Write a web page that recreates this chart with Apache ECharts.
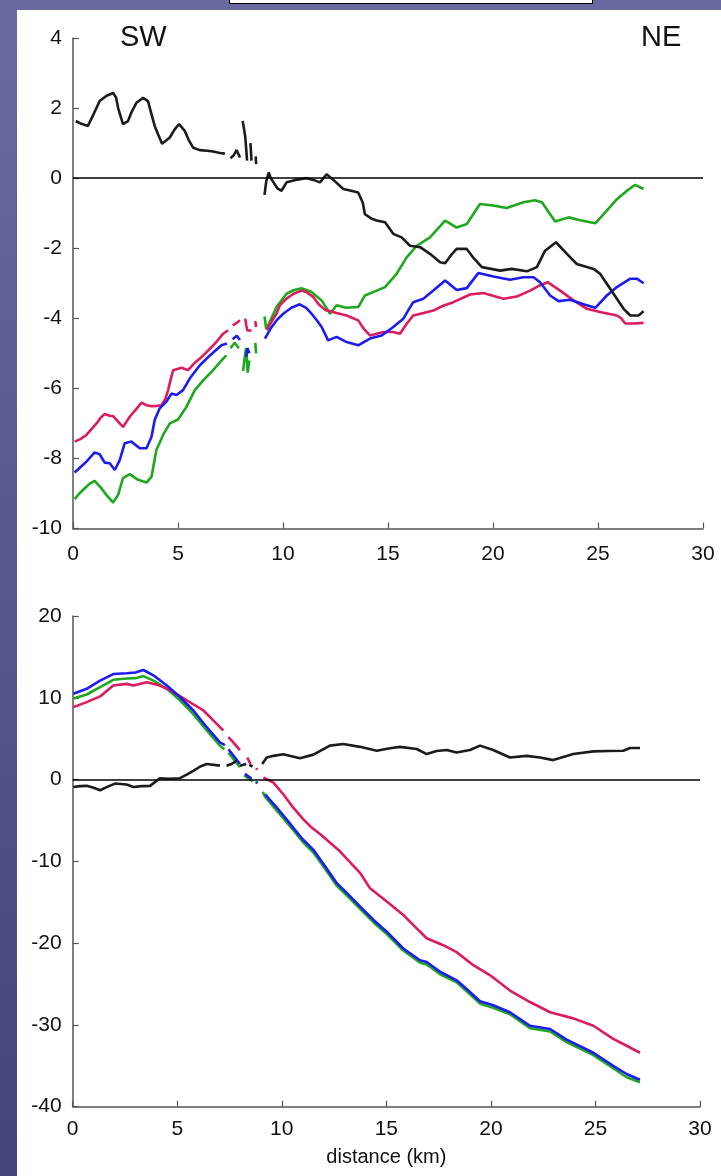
<!DOCTYPE html>
<html>
<head>
<meta charset="utf-8">
<script src="https://cdn.jsdelivr.net/npm/echarts@6/dist/echarts.min.js"></script>
<style>
  html, body { margin: 0; padding: 0; }
  body {
    width: 721px; height: 1176px; overflow: hidden; position: relative;
    background: linear-gradient(to bottom, #6a6aa0, #44447a);
  }
  #paper { position: absolute; left: 17px; top: 10px; right: 0; bottom: 0; background: #fff; }
  #tab { position: absolute; left: 229px; top: -4px; width: 362px; height: 6px; background: #fff; border: 1px solid #000; }
  #chart { position: absolute; left: 0; top: 0; width: 721px; height: 1176px; }
</style>
</head>
<body>
<div id="paper"></div>
<div id="tab"></div>
<div id="chart"></div>
<script>
// distance (km) / value pairs, null = gap in the trace
var topBlack = [[0.13,1.63],[0.4,1.55],[0.71,1.49],[1.0,1.85],[1.27,2.2],[1.6,2.35],[1.91,2.43],[2.05,2.3],[2.15,2.0],[2.38,1.54],[2.62,1.63],[2.8,1.9],[3.02,2.15],[3.34,2.29],[3.57,2.2],[3.75,1.8],[3.89,1.49],[4.05,1.25],[4.24,0.98],[4.61,1.16],[4.85,1.4],[5.05,1.54],[5.32,1.35],[5.5,1.1],[5.72,0.87],[6.04,0.8],[6.4,0.78],[6.67,0.76],[7.0,0.72],[7.23,0.7],null,[7.5,0.57],[7.65,0.65],[7.79,0.8],[7.95,0.59],null,[8.08,1.63],[8.2,1.2],[8.29,0.5],null,[8.45,1.0],[8.5,0.5],null,[8.7,0.62],[8.72,0.4],null,[9.12,-0.48],[9.2,-0.1],[9.32,0.16],[9.42,0.0],[9.58,-0.15],[9.75,-0.3],[9.93,-0.36],[10.17,-0.12],[10.6,-0.05],[11.12,0.0],[11.45,-0.05],[11.76,-0.12],[12.08,0.11],[12.4,-0.05],[12.87,-0.31],[13.2,-0.35],[13.58,-0.41],[13.8,-0.7],[13.9,-1.03],[14.2,-1.15],[14.46,-1.21],[14.86,-1.26],[15.25,-1.59],[15.65,-1.69],[16.05,-1.93],[16.53,-1.97],[17.0,-2.16],[17.48,-2.4],[17.72,-2.43],[18.0,-2.2],[18.27,-2.02],[18.75,-2.02],[19.1,-2.3],[19.47,-2.54],[20.34,-2.64],[20.9,-2.59],[21.61,-2.66],[22.09,-2.54],[22.48,-2.07],[23.0,-1.83],[23.52,-2.16],[23.99,-2.45],[24.79,-2.59],[25.1,-2.73],[25.74,-3.3],[26.22,-3.73],[26.54,-3.92],[26.93,-3.92],[27.17,-3.8]];
var topRed = [[0.08,-7.52],[0.35,-7.45],[0.64,-7.33],[0.9,-7.15],[1.12,-7.0],[1.3,-6.85],[1.51,-6.73],[1.75,-6.78],[1.91,-6.79],[2.15,-6.95],[2.38,-7.1],[2.55,-6.95],[2.7,-6.81],[3.0,-6.6],[3.26,-6.41],[3.5,-6.48],[3.74,-6.51],[4.0,-6.5],[4.21,-6.48],[4.4,-6.3],[4.53,-6.05],[4.65,-5.75],[4.77,-5.48],[5.17,-5.41],[5.48,-5.48],[5.75,-5.3],[6.04,-5.15],[6.3,-5.0],[6.6,-4.82],[6.9,-4.62],[7.15,-4.44],[7.39,-4.34],null,[7.6,-4.2],[7.75,-4.15],[7.95,-4.06],null,[8.2,-4.01],[8.25,-4.2],[8.3,-4.35],[8.5,-4.35],null,[8.68,-4.08],[8.72,-4.25],null,[9.22,-4.34],[9.45,-4.1],[9.69,-3.87],[9.85,-3.63],[10.17,-3.44],[10.5,-3.3],[10.88,-3.21],[11.1,-3.25],[11.44,-3.39],[11.7,-3.6],[12.0,-3.76],[12.55,-3.85],[13.03,-3.92],[13.58,-4.06],[13.85,-4.3],[14.14,-4.49],[14.78,-4.39],[15.25,-4.39],[15.57,-4.44],[15.9,-4.15],[16.2,-3.92],[16.7,-3.85],[17.16,-3.78],[17.6,-3.65],[18.11,-3.54],[18.91,-3.32],[19.54,-3.28],[20.0,-3.36],[20.5,-3.44],[21.13,-3.38],[21.77,-3.21],[22.2,-3.07],[22.6,-2.97],[23.2,-3.21],[23.83,-3.49],[24.47,-3.73],[25.1,-3.82],[25.9,-3.92],[26.1,-4.0],[26.3,-4.15],[26.7,-4.15],[27.17,-4.13]];
var topBlue = [[0.08,-8.4],[0.35,-8.25],[0.64,-8.09],[1.03,-7.83],[1.27,-7.88],[1.51,-8.12],[1.75,-8.14],[1.99,-8.33],[2.23,-8.04],[2.46,-7.57],[2.78,-7.52],[3.18,-7.71],[3.5,-7.71],[3.74,-7.38],[3.89,-6.9],[4.13,-6.57],[4.45,-6.38],[4.69,-6.15],[4.93,-6.19],[5.24,-6.05],[5.56,-5.72],[6.04,-5.34],[6.52,-5.06],[7.07,-4.77],[7.33,-4.72],null,[7.6,-4.6],[7.8,-4.5],[7.95,-4.62],null,[8.25,-5.1],[8.3,-4.85],[8.4,-5.0],null,[9.14,-4.58],[9.4,-4.3],[9.69,-4.06],[10.01,-3.87],[10.4,-3.7],[10.8,-3.6],[11.1,-3.7],[11.36,-3.87],[11.6,-4.05],[11.84,-4.25],[12.15,-4.63],[12.55,-4.53],[13.03,-4.68],[13.58,-4.77],[14.14,-4.58],[14.7,-4.49],[15.25,-4.25],[15.73,-4.01],[16.2,-3.54],[16.68,-3.44],[17.16,-3.21],[17.72,-2.92],[18.27,-3.19],[18.75,-3.14],[19.3,-2.71],[20.02,-2.81],[20.81,-2.9],[21.45,-2.83],[21.93,-2.83],[22.24,-2.97],[22.72,-3.35],[23.12,-3.51],[23.67,-3.47],[24.31,-3.6],[24.87,-3.7],[25.42,-3.35],[25.9,-3.11],[26.54,-2.87],[26.85,-2.87],[27.17,-3.0]];
var topGreen = [[0.08,-9.16],[0.3,-9.0],[0.56,-8.85],[0.8,-8.72],[1.03,-8.64],[1.35,-8.85],[1.59,-9.04],[1.91,-9.26],[2.15,-9.04],[2.38,-8.56],[2.7,-8.45],[3.1,-8.61],[3.5,-8.69],[3.74,-8.52],[3.97,-7.76],[4.29,-7.33],[4.61,-7.0],[5.0,-6.89],[5.4,-6.53],[5.8,-6.05],[6.2,-5.77],[6.67,-5.48],[7.15,-5.15],[7.3,-5.06],null,[7.5,-4.85],[7.7,-4.7],[7.9,-4.85],null,[8.1,-5.5],[8.2,-5.0],[8.25,-4.85],[8.32,-5.55],[8.4,-5.2],null,[8.68,-4.7],[8.72,-5.0],null,[9.12,-3.95],[9.2,-4.3],[9.3,-4.2],[9.69,-3.68],[10.17,-3.3],[10.5,-3.2],[10.88,-3.14],[11.36,-3.25],[11.84,-3.49],[12.24,-3.87],[12.55,-3.63],[13.0,-3.7],[13.58,-3.68],[13.9,-3.35],[14.46,-3.21],[14.86,-3.11],[15.41,-2.73],[15.89,-2.26],[16.37,-1.93],[17.0,-1.69],[17.72,-1.21],[18.27,-1.41],[18.75,-1.31],[19.38,-0.74],[20.0,-0.78],[20.65,-0.85],[21.45,-0.69],[22.0,-0.63],[22.33,-0.69],[22.96,-1.24],[23.6,-1.12],[24.15,-1.2],[24.87,-1.29],[25.42,-0.93],[25.9,-0.6],[26.38,-0.36],[26.77,-0.19],[27.17,-0.31]];

var botBlack = [[0.03,-0.9],[0.35,-0.8],[0.67,-0.77],[1.0,-1.0],[1.31,-1.3],[1.65,-0.9],[2.02,-0.49],[2.58,-0.6],[2.9,-0.9],[3.3,-0.8],[3.7,-0.77],[4.17,0.17],[4.6,0.1],[5.13,0.17],[5.45,0.6],[5.77,1.07],[6.1,1.6],[6.41,1.9],[7.04,1.7],null,[7.36,1.7],[7.6,1.9],[7.84,2.3],null,[8.0,1.7],[8.3,1.9],null,[8.45,1.8],[8.6,1.6],null,[9.06,1.9],[9.28,2.7],[9.6,2.9],[10.07,3.1],[10.87,2.6],[11.51,3.05],[12.3,4.15],[12.94,4.35],[13.74,4.0],[14.54,3.53],[15.1,3.8],[15.65,4.0],[16.45,3.74],[16.93,3.12],[17.4,3.5],[17.89,3.62],[18.36,3.3],[19.0,3.62],[19.48,4.15],[20.11,3.62],[20.91,2.7],[21.71,2.9],[22.35,2.7],[22.98,2.38],[23.94,3.12],[24.9,3.45],[25.6,3.5],[26.33,3.53],[26.65,3.86],[27.13,3.86]];
var botRed = [[0.03,8.86],[0.67,9.47],[1.31,10.17],[1.94,11.5],[2.58,11.7],[2.9,11.5],[3.54,11.9],[4.17,11.5],[4.65,10.9],[5.45,9.7],[6.25,8.45],[6.89,6.8],[7.2,6.0],null,[7.45,5.2],[7.68,4.55],[8.0,3.6],null,[8.35,2.7],[8.5,1.9],null,[8.78,1.4],[8.82,1.2],null,[9.12,0.25],[9.6,-0.37],[10.07,-1.8],[10.55,-3.44],[11.03,-4.87],[11.4,-5.8],[11.9,-6.8],[12.78,-8.77],[13.74,-11.4],[14.22,-13.3],[15.02,-14.9],[15.81,-16.55],[16.45,-18.2],[16.93,-19.4],[17.72,-20.25],[18.36,-21.1],[19.16,-22.7],[19.95,-23.9],[20.91,-25.8],[21.87,-27.2],[22.83,-28.45],[23.94,-29.2],[24.9,-30.1],[25.85,-31.7],[26.49,-32.55],[27.13,-33.4]];
var botBlue = [[0.03,10.5],[0.67,11.1],[1.31,12.1],[1.94,12.9],[2.58,13.0],[3.0,13.1],[3.38,13.4],[3.86,12.75],[4.5,11.5],[5.13,10.1],[5.77,8.45],[6.41,6.4],[7.04,4.55],[7.28,4.2],null,[7.45,3.7],[8.0,1.9],null,[8.24,0.7],[8.56,0.1],null,[8.78,-0.3],[8.82,-0.45],null,[9.2,-1.8],[9.76,-3.44],[10.23,-4.87],[10.55,-5.9],[11.0,-7.3],[11.5,-8.56],[12.07,-10.6],[12.63,-12.67],[13.2,-14.1],[13.74,-15.5],[14.4,-17.2],[15.02,-18.6],[15.81,-20.66],[16.61,-22.1],[16.93,-22.3],[17.57,-23.5],[18.36,-24.55],[18.84,-25.6],[19.48,-27.1],[20.11,-27.6],[20.91,-28.45],[21.87,-30.1],[22.83,-30.5],[23.62,-31.8],[24.9,-33.4],[25.85,-35.0],[26.49,-36.0],[27.13,-36.7]];
var botGreen = [[0.03,9.9],[0.67,10.4],[1.31,11.3],[1.94,12.2],[2.58,12.35],[3.0,12.4],[3.38,12.65],[3.86,12.1],[4.5,11.1],[5.13,9.7],[5.77,8.0],[6.41,6.0],[7.04,4.15],[7.25,3.7],null,[7.45,3.3],[8.0,1.5],null,[8.2,0.5],[8.6,-0.2],null,[8.78,-0.2],[8.82,-0.5],null,[9.09,-1.5],[9.2,-2.1],[9.76,-3.8],[10.23,-5.2],[10.55,-6.2],[11.0,-7.6],[11.5,-8.9],[12.07,-10.9],[12.63,-13.0],[13.2,-14.4],[13.74,-15.8],[14.4,-17.5],[15.02,-18.9],[15.81,-20.9],[16.61,-22.4],[16.93,-22.6],[17.57,-23.8],[18.36,-24.8],[18.84,-25.9],[19.48,-27.4],[20.11,-27.9],[20.91,-28.7],[21.87,-30.4],[22.83,-30.8],[23.62,-32.1],[24.9,-33.7],[25.85,-35.3],[26.49,-36.4],[27.13,-37.0]];

var BLACK = '#1c1c1c', RED = '#dc1c5c', BLUE = '#1c1cf2', GREEN = '#1ea81e';
var FONT = 'Liberation Sans';

function gaps(arr) {
    return arr.map(function (p) { return p === null ? ['-', '-'] : p; });
}

function trace(name, arr, color, idx) {
    return {
        name: name,
        type: 'line',
        xAxisIndex: idx,
        yAxisIndex: idx,
        data: gaps(arr),
        showSymbol: false,
        connectNulls: false,
        animation: false,
        lineStyle: { color: color, width: 2.6 },
        itemStyle: { color: color }
    };
}

function zeroLine(idx) {
    return {
        type: 'line', xAxisIndex: idx, yAxisIndex: idx, data: [],
        markLine: {
            silent: true, symbol: 'none', animation: false,
            label: { show: false },
            lineStyle: { color: '#000', width: 1.5, type: 'solid' },
            data: [{ yAxis: 0 }]
        }
    };
}

var axisCommon = {
    axisLine: { show: true, onZero: false, lineStyle: { color: '#555', width: 1.5 } },
    axisTick: { show: true, inside: true, length: 6, lineStyle: { color: '#555', width: 1.2 } },
    splitLine: { show: false },
    axisLabel: { color: '#111', fontSize: 21, fontFamily: FONT }
};

function xAx(idx, margin) {
    return Object.assign({}, axisCommon, {
        type: 'value', gridIndex: idx, min: 0, max: 30, interval: 5,
        axisLabel: Object.assign({}, axisCommon.axisLabel, { margin: margin })
    });
}

function yAx(idx, min, max, interval) {
    return Object.assign({}, axisCommon, {
        type: 'value', gridIndex: idx, min: min, max: max, interval: interval,
        axisLabel: Object.assign({}, axisCommon.axisLabel, { margin: 11 })
    });
}

var chart = echarts.init(document.getElementById('chart'));
var xBottom = xAx(1, 12);
xBottom.name = 'distance (km)';
xBottom.nameLocation = 'middle';
xBottom.nameGap = 41;
xBottom.nameTextStyle = { color: '#111', fontSize: 20, fontFamily: FONT };

chart.setOption({
    backgroundColor: 'transparent',
    grid: [
        { left: 73, top: 38, width: 630, height: 490.5 },
        { left: 72.7, top: 616, width: 627.3, height: 490.7 }
    ],
    xAxis: [xAx(0, 15), xBottom],
    yAxis: [yAx(0, -10, 4, 2), yAx(1, -40, 20, 10)],
    graphic: [
        { type: 'text', left: 120, top: 23, style: { text: 'SW', fontSize: 29, fontFamily: FONT, fill: '#111' } },
        { type: 'text', left: 641, top: 23, style: { text: 'NE', fontSize: 29, fontFamily: FONT, fill: '#111' } }
    ],
    series: [
        zeroLine(0),
        trace('green', topGreen, GREEN, 0),
        trace('red', topRed, RED, 0),
        trace('blue', topBlue, BLUE, 0),
        trace('black', topBlack, BLACK, 0),
        zeroLine(1),
        trace('green', botGreen, GREEN, 1),
        trace('red', botRed, RED, 1),
        trace('blue', botBlue, BLUE, 1),
        trace('black', botBlack, BLACK, 1)
    ]
});
</script>
</body>
</html>
